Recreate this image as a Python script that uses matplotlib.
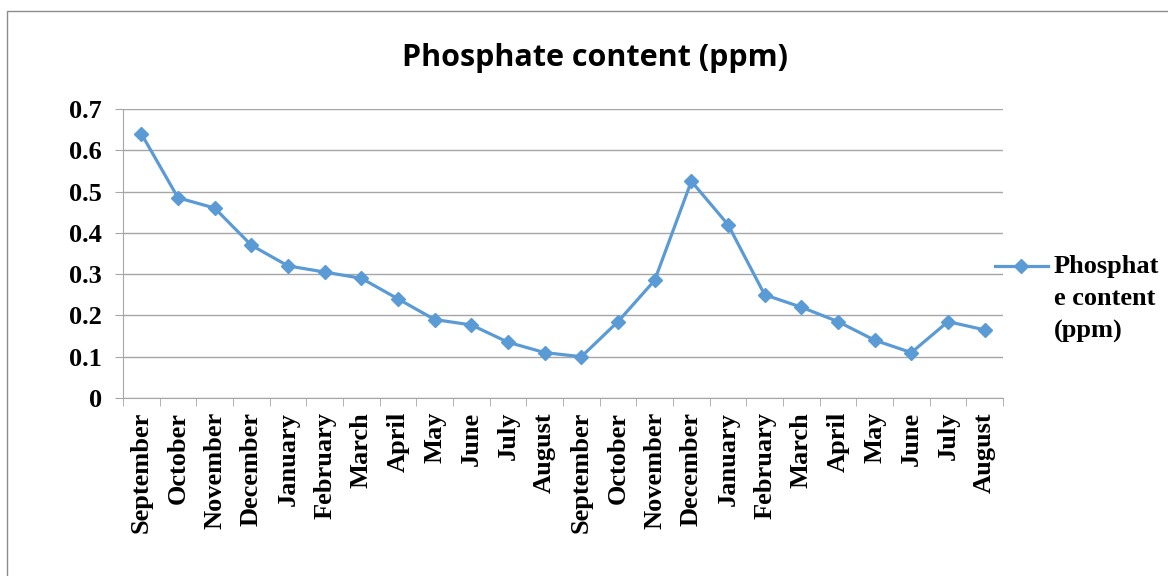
"""Phosphate content line chart (Excel-style)."""

import matplotlib

matplotlib.use("Agg")
import matplotlib.pyplot as plt
from matplotlib.lines import Line2D
from matplotlib.patches import Rectangle


months = [
    "September", "October", "November", "December", "January", "February",
    "March", "April", "May", "June", "July", "August",
    "September", "October", "November", "December", "January", "February",
    "March", "April", "May", "June", "July", "August",
]
phosphate = [
    0.64, 0.485, 0.46, 0.37, 0.32, 0.305, 0.29, 0.24, 0.19, 0.177, 0.135, 0.11,
    0.10, 0.185, 0.285, 0.525, 0.42, 0.25, 0.22, 0.185, 0.14, 0.11, 0.185, 0.165,
]
y_ticks = [0, 0.1, 0.2, 0.3, 0.4, 0.5, 0.6, 0.7]
series_name = "Phosphate content (ppm)"

LINE = "#5B9BD5"
GRID = "#A6A6A6"
SERIF = "Liberation Serif"
FS = 19


def main() -> None:
    fig = plt.figure(figsize=(11.68, 5.76), dpi=100)
    ax = fig.add_axes([123 / 1168, 1 - 398 / 576, 880 / 1168, 289 / 576])

    # outer chart border, cut off at right and bottom like the source
    fig.add_artist(Rectangle((7 / 1168, -0.1), 1.2, 1 - 11 / 576 + 0.1,
                             transform=fig.transFigure, fill=False,
                             edgecolor="#8C8C8C", linewidth=1))

    x = list(range(len(months)))
    ax.plot(x, phosphate, color=LINE, linewidth=2.3, marker="D",
            markersize=7.5, markerfacecolor=LINE, markeredgecolor=LINE)

    ax.set_xlim(-0.5, len(months) - 0.5)
    ax.set_ylim(0, 0.7)
    ax.set_yticks(y_ticks, ["0" if v == 0 else f"{v:.1f}" for v in y_ticks],
                  fontfamily=SERIF, fontweight="bold", fontsize=FS)
    ax.set_xticks(x, months, rotation=90, fontfamily=SERIF,
                  fontweight="bold", fontsize=FS)
    ax.set_xticks([i - 0.5 for i in range(len(months) + 1)], minor=True)
    ax.tick_params(axis="x", which="major", length=0, pad=10)
    ax.tick_params(axis="x", which="minor", length=6, color=GRID, direction="out")
    ax.tick_params(axis="y", length=6, color=GRID, direction="out", pad=9)

    ax.grid(axis="y", color=GRID, linewidth=1)
    ax.set_axisbelow(True)
    for side in ["top", "right"]:
        ax.spines[side].set_visible(False)
    ax.spines["left"].set_color(GRID)
    ax.spines["bottom"].set_color(GRID)

    fig.text(595 / 1168, 1 - 58 / 576, series_name, ha="center", va="center",
             fontfamily="Open Sans", fontweight="bold", fontsize=22)

    # legend drawn by hand so the marker sits on the first wrapped line
    ly = 1 - 266 / 576
    fig.add_artist(Line2D([995 / 1168, 1048 / 1168], [ly, ly],
                          transform=fig.transFigure, color=LINE, linewidth=2.3))
    fig.add_artist(Line2D([1021 / 1168], [ly], transform=fig.transFigure,
                          marker="D", markersize=7.5, color=LINE))
    fig.text(1054 / 1168, 1 - 299 / 576, "Phosphat\ne content\n(ppm)",
             ha="left", va="center", fontfamily=SERIF, fontweight="bold",
             fontsize=FS, linespacing=1.5)

    fig.savefig("out.png", dpi=100)
    plt.close(fig)


if __name__ == "__main__":
    main()
